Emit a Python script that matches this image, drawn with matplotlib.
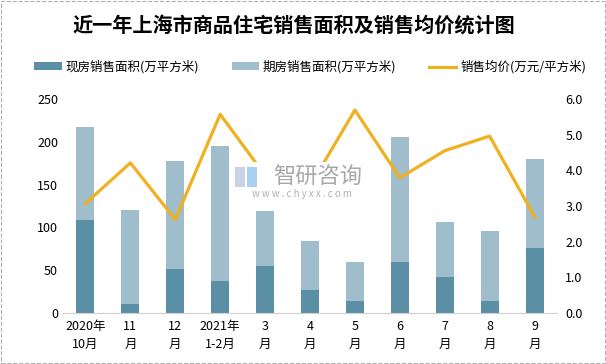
import matplotlib
matplotlib.use("Agg")
import matplotlib.pyplot as plt
from matplotlib.patches import Rectangle
import numpy as np

plt.rcParams['font.family'] = ['Noto Sans CJK SC', 'DejaVu Sans']

months = ['2020年\n10月', '11\n月', '12\n月', '2021年\n1-2月', '3\n月', '4\n月',
          '5\n月', '6\n月', '7\n月', '8\n月', '9\n月']
spot_area = [108.6, 10.5, 51.4, 37.4, 54.9, 26.9, 14.0, 59.6, 42.0, 14.0, 75.9]
total_area = [217.0, 120.0, 177.6, 195.0, 119.0, 84.0, 59.6, 205.6, 106.3, 95.8, 179.9]
presale_area = [t - s for t, s in zip(total_area, spot_area)]
avg_price = [3.07, 4.21, 2.62, 5.57, 3.86, 3.56, 5.69, 3.79, 4.55, 4.96, 2.70]

c_spot = '#5B8FA5'
c_pre = '#A0BDCB'
c_line = '#F0B121'

fig = plt.figure(figsize=(6.06, 3.64), dpi=100)
ax = fig.add_axes([63 / 606, 1 - 313 / 364, 494 / 606, 214 / 364])
x = np.arange(len(months))

b1 = ax.bar(x, spot_area, width=0.4, color=c_spot, zorder=2)
b2 = ax.bar(x, presale_area, width=0.4, bottom=spot_area, color=c_pre, zorder=2)
ax.set_xlim(-0.5, len(months) - 0.5)
ax.set_ylim(0, 250)
ax.set_yticks(range(0, 251, 50))
ax.set_xticks(x)
ax.set_xticklabels(months, fontsize=9, linespacing=1.5)
ax.tick_params(axis='both', length=0, labelsize=9)
ax.tick_params(axis='x', pad=5)
for s in ['top', 'right', 'left']:
    ax.spines[s].set_visible(False)
ax.spines['bottom'].set_color('#D0D0D0')

ax2 = ax.twinx()
l1, = ax2.plot(x, avg_price, color=c_line, lw=2.3, zorder=3)
ax2.set_ylim(0, 6)
ax2.set_yticks(np.arange(0, 6.01, 1.0))
ax2.set_yticklabels([f'{v:.1f}' for v in np.arange(0, 6.01, 1.0)])
ax2.tick_params(axis='y', length=0, labelsize=9, pad=6)
for s in ['top', 'right', 'left', 'bottom']:
    ax2.spines[s].set_visible(False)

fig.text(0.485, 1 - 25 / 364, '近一年上海市商品住宅销售面积及销售均价统计图',
         ha='center', va='center', fontsize=14.5, fontweight='bold')

fig.legend([b1, b2, l1], ['现房销售面积(万平方米)', '期房销售面积(万平方米)', '销售均价(万元/平方米)'],
           loc='center', bbox_to_anchor=(0.512, 1 - 67 / 364), ncol=3, frameon=False,
           fontsize=9, handlelength=2.2, handleheight=0.6, columnspacing=2.6, handletextpad=0.3)

# watermark
fig.patches.append(Rectangle((232 / 606, 1 - 200 / 364), 143 / 606, 38 / 364,
                             transform=fig.transFigure, facecolor='white', edgecolor='none', zorder=5))
fig.patches.append(Rectangle((235 / 606, 1 - 187 / 364), 10 / 606, 20 / 364,
                             transform=fig.transFigure, facecolor='#C9D3E3', edgecolor='none', zorder=6))
fig.patches.append(Rectangle((247 / 606, 1 - 187 / 364), 10 / 606, 20 / 364,
                             transform=fig.transFigure, facecolor='#A9D0EE', edgecolor='none', zorder=6))
fig.text(318 / 606, 1 - 177 / 364, '智研咨询', ha='center', va='center',
         fontsize=16, color='#A8A8A8', zorder=7)
fig.text(302 / 606, 1 - 194 / 364, 'w w w . c h y x x . c o m', ha='center', va='center',
         fontsize=7, color='#B0B0B0', zorder=7)

fig.patches.append(Rectangle((0.001, 0.002), 0.997, 0.995, transform=fig.transFigure,
                             facecolor='none', edgecolor='#B0B0B0', lw=0.8, ls='--'))

fig.savefig('out.png', dpi=100)
